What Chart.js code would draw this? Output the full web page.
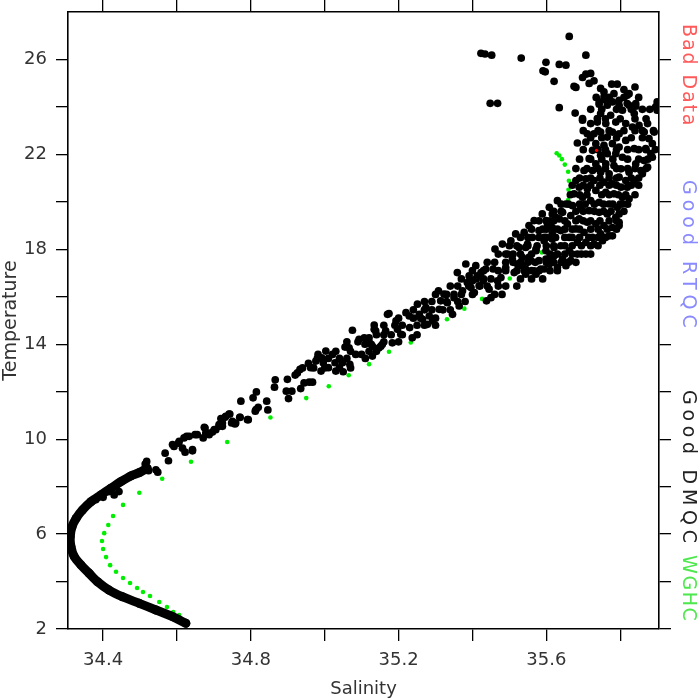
<!DOCTYPE html>
<html>
<head>
<meta charset="utf-8">
<script src="https://cdn.jsdelivr.net/npm/chart.js@4.4.1/dist/chart.umd.min.js"></script>
<style>
  body { margin: 0; background: #fff; }
  #wrap { position: relative; width: 700px; height: 700px; }
  .side { position: absolute; writing-mode: vertical-rl; font-family: "DejaVu Sans", sans-serif;
          font-size: 19px; line-height: 20px; white-space: nowrap; }
</style>
</head>
<body>
<div id="wrap">
  <canvas id="chart" width="700" height="700"></canvas>
  <div class="side" style="left:680px; top:24px; color:#ff5a5a; letter-spacing:1.9px;">Bad Data</div>
  <div class="side" style="left:680px; top:180px; color:#8a8aff; letter-spacing:5px;">Good RTQC</div>
  <div class="side" style="left:680px; top:390px; color:#222; letter-spacing:4.7px;">Good DMQC</div>
  <div class="side" style="left:680px; top:555px; color:#4ee84e; letter-spacing:1.6px;">WGHC</div>
</div>
<script>
// axis ticks (minor ticks carry an empty label)
const xTicks = [34.4, 34.6, 34.8, 35.0, 35.2, 35.4, 35.6, 35.8];
const xLabels = ["34.4", "", "34.8", "", "35.2", "", "35.6", ""];
const yTicks = [2, 4, 6, 8, 10, 12, 14, 16, 18, 20, 22, 24, 26];
const yLabels = ["2", "", "6", "", "10", "", "14", "", "18", "", "22", "", "26"];

// dense deep part of the DMQC profile (salinity, temperature)
const bandPoints = [
  [34.624,2.24],[34.588,2.52],[34.543,2.80],[34.498,3.08],[34.452,3.36],[34.416,3.64],
  [34.385,3.99],[34.362,4.35],[34.340,4.70],[34.322,5.05],[34.313,5.47],[34.311,5.89],
  [34.316,6.31],[34.327,6.66],[34.344,7.01],[34.367,7.36],[34.394,7.65],[34.421,7.93],
  [34.448,8.21],[34.475,8.45],[34.498,8.59],[34.519,8.78]
];

// scattered DMQC points (salinity, temperature)
const dmqcPoints = [
  [34.518,9.06],[34.514,8.95],[34.523,8.67],[34.543,8.71],[34.548,8.61],[34.568,9.41],[34.577,9.09],
  [34.592,9.69],[34.604,9.83],[34.615,9.62],[34.622,9.45],[34.626,10.12],[34.642,9.51],[34.649,10.19],
  [34.671,10.05],[34.676,10.47],[34.683,10.26],[34.696,10.30],[34.705,10.40],[34.714,10.61],[34.723,10.54],
  [34.730,10.92],[34.743,11.06],[34.748,10.68],[34.757,10.64],[34.771,10.92],[34.791,10.82],[34.814,11.25],
  [34.452,8.24],[34.475,8.43],[34.435,8.00],[34.416,7.79],[34.430,7.65],[34.443,7.79],[34.400,7.55],[34.380,7.45],
  [34.588,9.77],[34.606,9.91],[34.619,10.05],[34.633,10.12],[34.642,9.56],[34.655,10.19],[34.674,10.50],
  [34.678,10.26],[34.687,10.19],[34.701,10.40],[34.714,10.54],[34.723,10.68],[34.719,10.87],[34.732,10.96],
  [34.741,11.06],[34.750,10.75],[34.759,10.68],[34.770,10.92],[34.773,11.60],[34.793,10.82],[34.806,11.74],
  [34.815,11.99],[34.812,11.18],[34.820,11.34],[34.843,11.60],[34.846,11.23],[34.864,12.19],[34.866,12.50],
  [34.899,12.52],[34.896,12.02],[34.902,11.71],[34.911,12.02],[34.920,12.70],[34.926,12.79],[34.933,12.94],
  [34.935,12.13],[34.944,12.37],[34.956,13.19],[34.958,12.40],[34.967,12.40],[34.962,13.01],[34.976,13.29],
  [34.982,13.57],[34.990,12.87],[34.992,13.43],[34.996,13.22],[35.003,13.71],[35.010,13.01],[35.021,13.57],
  [35.028,13.22],[35.030,12.87],[35.048,13.22],[35.050,12.84],[35.055,13.88],[35.066,13.85],[35.068,13.15],
  [35.075,14.59],[35.084,13.57],[35.093,14.21],[35.100,13.57],[35.109,14.00],[35.120,14.27],[35.126,14.00],
  [35.134,14.81],[35.138,14.56],[35.129,13.50],[35.147,13.85],[35.156,14.00],[35.170,15.26],
  [35.107,14.27],[35.129,13.92],[35.134,14.63],[35.152,13.92],[35.165,14.56],[35.174,15.29],[35.183,14.06],
  [35.193,14.98],[35.197,14.63],[35.206,14.42],[35.220,15.33],[35.229,15.19],[35.230,14.70],[35.237,14.27],
  [35.251,15.69],[35.256,15.26],[35.265,15.05],[35.274,15.54],[35.278,14.84],[35.283,15.19],[35.292,14.98],
  [35.308,16.25],[35.310,15.47],[35.314,15.83],[35.323,16.11],[35.332,15.75],[35.346,15.26],[35.350,15.96],
  [35.359,17.02],[35.364,15.61],[35.373,16.25],[35.382,17.38],[35.386,16.60],[35.391,16.88],[35.396,16.39],
  [35.400,16.67],[35.405,16.18],[35.409,17.31],[35.413,16.88],[35.418,16.46],[35.423,17.02],[35.429,16.67],
  [35.436,17.17],[35.438,15.83],[35.445,16.32],[35.450,15.96],[35.456,17.17],[35.461,18.01],[35.468,16.67],
  [35.477,16.81],[35.481,18.22],[35.490,17.23],[35.495,17.80],[35.504,18.36],[35.508,17.59],[35.513,17.02],
  [35.517,18.65],[35.522,17.38],[35.526,18.08],[35.535,17.66],[35.540,18.71],[35.544,17.17],[35.549,18.22],
  [35.553,19.00],[35.558,17.52],[35.562,18.50],[35.567,19.21],[35.572,17.94],[35.580,18.79],[35.585,17.17],
  [35.589,19.49],[35.594,18.36],[35.599,17.59],[35.603,19.07],[35.608,19.77],[35.612,17.52],[35.616,18.65],
  [35.621,18.08],[35.626,19.35],[35.630,20.05],
  [35.635,23.97],[35.678,23.74],[35.743,24.11],[35.756,24.42],[35.765,24.07],[35.783,24.56],[35.797,24.28],
  [35.806,23.86],[35.819,24.49],[35.824,24.07],[35.838,23.72],[35.842,24.14],[35.747,23.72],[35.774,23.65],
  [35.698,23.44],[35.720,23.30],[35.738,23.36],[35.761,23.30],[35.788,23.36],[35.815,23.30],[35.833,23.15],
  [35.851,23.22],[35.874,23.30],[35.896,24.00],[35.892,22.94],[35.865,22.94],[35.878,22.66],[35.887,22.45],
  [35.869,22.24],[35.883,22.03],[35.865,21.74],[35.856,21.32],[35.838,22.24],[35.842,21.60],[35.824,21.25],
  [35.815,22.59],[35.797,22.87],[35.779,22.94],[35.765,22.73],[35.747,22.94],[35.729,22.87],[35.711,22.87],
  [35.707,22.52],[35.684,22.48],[35.734,22.45],[35.756,22.38],[35.779,22.45],[35.797,22.31],[35.806,21.88],
  [35.788,22.03],[35.765,22.03],[35.747,21.96],[35.725,22.17],[35.716,21.82],[35.734,21.60],[35.761,21.60],
  [35.783,21.53],[35.802,21.39],[35.815,20.90],[35.797,21.04],[35.770,21.18],[35.747,21.25],[35.725,21.32],
  [35.702,21.32],[35.707,20.97],[35.729,20.90],[35.756,20.83],[35.779,20.76],[35.802,20.62],[35.806,20.19],
  [35.783,20.34],[35.761,20.40],[35.734,20.48],[35.711,20.55],[35.689,20.62],[35.680,20.90],[35.675,20.34],
  [35.698,20.19],[35.720,20.05],[35.743,19.98],[35.770,19.91],[35.792,19.77],[35.788,19.35],[35.765,19.49],
  [35.743,19.56],[35.716,19.63],[35.693,19.70],[35.671,19.84],[35.653,19.91],[35.644,19.56],[35.666,19.42],
  [35.689,19.28],[35.711,19.14],[35.734,19.07],[35.756,19.00],[35.779,18.92],[35.797,19.00],[35.770,18.57],
  [35.747,18.65],[35.725,18.50],[35.702,18.71],[35.680,18.86],[35.657,19.07],[35.635,19.28],[35.616,19.49],
  [35.599,19.21],[35.616,18.92],[35.639,18.79],[35.662,18.50],[35.684,18.29],[35.707,18.29],[35.729,18.22],
  [35.752,18.36],[35.594,18.50],[35.616,18.43],[35.639,18.15],[35.662,17.94],[35.684,17.80],[35.707,17.80],
  [35.544,18.08],[35.572,18.01],[35.599,17.94],[35.621,17.73],[35.644,17.59],[35.666,17.52],[35.553,17.66],
  [35.580,17.52],[35.608,17.38],[35.630,17.23],[35.653,17.31],[35.535,17.31],[35.567,17.09],[35.594,17.17],
  [35.544,16.95],[35.572,16.95],
  [35.900,23.86],[35.887,21.88],[35.874,21.46],[35.860,21.18],[35.838,20.90],[35.819,20.62],[35.824,20.13],
  [35.806,19.91],[35.797,19.49],[35.797,19.14],[35.779,18.57],
  [35.423,26.26],[35.434,26.23],[35.452,26.18],[35.532,26.06],[35.662,26.97],[35.707,26.18],[35.599,25.88],
  [35.635,25.79],[35.653,25.76],[35.591,25.52],[35.597,25.48],[35.621,25.08],[35.698,25.24],[35.707,25.38],
  [35.720,25.41],[35.729,25.10],[35.716,24.99],[35.675,24.87],[35.680,24.82],[35.777,24.96],[35.792,24.96],
  [35.747,24.78],[35.756,24.63],[35.810,24.73],[35.840,24.84],[35.824,24.56],[35.448,24.15],[35.468,24.15],
  [35.743,24.21],[35.761,24.28],[35.779,24.21],[35.797,24.07],[35.819,24.14],[35.842,24.03],[35.900,24.21],
  [35.698,23.51],[35.738,23.51],
  // filling of the warm, dense cluster
  [35.735,24.40],[35.770,24.40],[35.810,24.40],[35.850,24.40],
  [35.720,23.90],[35.750,23.90],[35.790,23.90],[35.830,23.90],[35.860,23.90],[35.880,23.90],
  [35.760,23.50],[35.800,23.50],[35.840,23.50],[35.870,23.50],
  [35.700,23.00],[35.740,23.00],[35.770,23.00],[35.810,23.00],[35.840,23.00],[35.860,23.00],[35.890,23.00],
  [35.720,22.70],[35.750,22.70],[35.790,22.70],[35.830,22.70],[35.860,22.70],
  [35.700,22.20],[35.740,22.20],[35.760,22.20],[35.790,22.20],[35.820,22.20],[35.850,22.20],[35.870,22.20],[35.895,22.20],
  [35.690,21.80],[35.720,21.80],[35.750,21.80],[35.780,21.80],[35.820,21.80],[35.850,21.80],[35.875,21.80],
  [35.680,21.40],[35.710,21.40],[35.740,21.40],[35.760,21.40],[35.790,21.40],[35.820,21.40],[35.840,21.40],[35.870,21.40],
  [35.690,21.00],[35.720,21.00],[35.745,21.00],[35.770,21.00],[35.790,21.00],[35.830,21.00],[35.850,21.00],
  [35.670,20.70],[35.700,20.70],[35.720,20.70],[35.745,20.70],[35.770,20.70],[35.790,20.70],[35.830,20.70],[35.850,20.70],
  [35.665,20.30],[35.690,20.30],[35.710,20.30],[35.750,20.30],[35.770,20.30],[35.795,20.30],[35.815,20.30],[35.840,20.30],
  [35.640,19.90],[35.660,19.90],[35.690,19.90],[35.705,19.90],[35.730,19.90],[35.755,19.90],[35.780,19.90],[35.800,19.90],[35.820,19.90],
  [35.620,19.60],[35.640,19.60],[35.680,19.60],[35.700,19.60],[35.730,19.60],[35.755,19.60],[35.775,19.60],[35.810,19.60],
  [35.580,19.20],[35.610,19.20],[35.620,19.20],[35.650,19.20],[35.680,19.20],[35.700,19.20],[35.720,19.20],[35.745,19.20],[35.770,19.20],[35.790,19.20],
  [35.560,18.85],[35.590,18.85],[35.600,18.85],[35.630,18.85],[35.650,18.85],[35.670,18.85],[35.690,18.85],[35.720,18.85],[35.740,18.85],[35.765,18.85],[35.790,18.85],
  [35.530,18.50],[35.550,18.50],[35.580,18.50],[35.600,18.50],[35.625,18.50],[35.650,18.50],[35.670,18.50],[35.690,18.50],[35.715,18.50],[35.740,18.50],[35.760,18.50],
  [35.500,18.15],[35.520,18.15],[35.550,18.15],[35.575,18.15],[35.600,18.15],[35.620,18.15],[35.650,18.15],[35.670,18.15],[35.695,18.15],[35.720,18.15],[35.740,18.15],
  [35.470,17.80],[35.490,17.80],[35.510,17.80],[35.530,17.80],[35.560,17.80],[35.610,17.80],[35.630,17.80],[35.650,17.80],[35.670,17.80],[35.695,17.80],[35.720,17.80],
  [35.440,17.45],[35.460,17.45],[35.490,17.45],[35.510,17.45],[35.530,17.45],[35.550,17.45],[35.570,17.45],[35.600,17.45],[35.620,17.45],[35.640,17.45],[35.660,17.45],[35.680,17.45],
  [35.400,17.10],[35.430,17.10],[35.470,17.10],[35.490,17.10],[35.520,17.10],[35.540,17.10],[35.560,17.10],[35.580,17.10],[35.610,17.10],[35.630,17.10],
  [35.370,16.75],[35.410,16.75],[35.430,16.75],[35.450,16.75],[35.530,16.75],[35.560,16.75],[35.590,16.75],
  [35.340,16.45],[35.360,16.45],[35.390,16.45],[35.420,16.45],[35.440,16.45],[35.470,16.45],[35.490,16.45],[35.520,16.45],
  [35.300,16.10],[35.330,16.10],[35.350,16.10],[35.370,16.10],[35.400,16.10],[35.460,16.10],[35.480,16.10],
  [35.270,15.80],[35.290,15.80],[35.330,15.80],[35.360,15.80],[35.380,15.80],
  [35.240,15.45],[35.270,15.45],[35.290,15.45],[35.320,15.45],[35.340,15.45],
  [35.200,15.10],[35.240,15.10],[35.260,15.10],[35.300,15.10],
  [35.160,14.80],[35.190,14.80],[35.210,14.80],[35.250,14.80],[35.270,14.80],[35.300,14.80],
  [35.140,14.40],[35.160,14.40],[35.180,14.40],[35.210,14.40],[35.250,14.40],
  [35.060,14.10],[35.090,14.10],[35.120,14.10],[35.160,14.10],[35.200,14.10],
  [35.030,13.70],[35.070,13.70],[35.120,13.70],[35.140,13.70],
  [34.980,13.40],[35.010,13.40],[35.040,13.40],[35.060,13.40],[35.110,13.40],
  [34.940,13.00],[34.970,13.00],[35.000,13.00],[35.040,13.00],[35.070,13.00]
];

// WGHC climatology profile
const wghcPoints = [
  [34.625,2.33],[34.606,2.59],[34.590,2.71],[34.573,2.93],[34.552,3.14],[34.527,3.39],[34.508,3.56],
  [34.492,3.73],[34.473,3.94],[34.454,4.15],[34.435,4.41],[34.419,4.69],[34.408,5.03],[34.400,5.37],
  [34.397,5.71],[34.403,6.04],[34.414,6.38],[34.427,6.76],[34.454,7.23],[34.498,7.74],[34.560,8.33],
  [34.638,9.05],[34.736,9.88],[34.853,10.91],[34.950,11.73],[35.011,12.23],[35.065,12.69],[35.120,13.16],
  [35.174,13.68],[35.233,14.07],[35.331,15.05],[35.378,15.50],[35.426,15.91],[35.501,16.77],[35.588,17.87],
  [35.659,20.08],[35.660,20.51],[35.661,20.89],[35.659,21.27],[35.650,21.57],[35.642,21.80],[35.635,21.95],
  [35.628,22.05]
];

// flagged bad point
const badPoints = [[35.736,22.17]];

const toXY = pts => pts.map(p => ({ x: p[0], y: p[1] }));

function axisStyle(ticks, labels, showLabels) {
  return {
    afterBuildTicks: s => { s.ticks = ticks.map(v => ({ value: v })); },
    grid: { display: true, drawOnChartArea: false, drawTicks: true, tickLength: 12, color: "#000", lineWidth: 1.3 },
    border: { display: true, color: "#000", width: 1.6 },
    ticks: {
      display: showLabels,
      autoSkip: false,
      maxRotation: 0,
      color: "#333",
      padding: 9,
      font: { family: "DejaVu Sans", size: 18 },
      callback: (v, i) => labels[i]
    }
  };
}

// keep the plot box fixed: no extra room for half tick labels
function fixBox(size, vertical) {
  return s => {
    if (vertical) s.width = size; else s.height = size;
    s.paddingTop = 0; s.paddingBottom = 0; s.paddingLeft = 0; s.paddingRight = 0;
  };
}

const xMin = 34.305, xMax = 35.905, yMin = 2, yMax = 28;

new Chart(document.getElementById("chart"), {
  type: "scatter",
  data: {
    datasets: [
      { data: toXY(badPoints), backgroundColor: "#ff0000", pointRadius: 1.6, pointBorderWidth: 0, order: 0 },
      { data: toXY(dmqcPoints), backgroundColor: "#000", pointRadius: 3.85, pointBorderWidth: 0, order: 1 },
      { data: toXY(bandPoints), backgroundColor: "#000", borderColor: "#000", showLine: true,
        borderWidth: 9, borderCapStyle: "round", borderJoinStyle: "round", tension: 0.3,
        pointRadius: 4.5, pointBorderWidth: 0, order: 2 },
      { data: toXY(wghcPoints), backgroundColor: "#00ee00", pointRadius: 2.3, pointBorderWidth: 0, order: 3 }
    ]
  },
  options: {
    responsive: false,
    animation: false,
    devicePixelRatio: 1,
    layout: { padding: 0 },
    plugins: { legend: { display: false }, tooltip: { enabled: false } },
    scales: {
      x: Object.assign(axisStyle(xTicks, xLabels, true), {
        type: "linear", position: "bottom", min: xMin, max: xMax,
        title: { display: true, text: "Salinity", color: "#333", padding: 0, font: { family: "DejaVu Sans", size: 18 } },
        afterFit: fixBox(71, false)
      }),
      x2: Object.assign(axisStyle(xTicks, xLabels, false), {
        type: "linear", position: "top", min: xMin, max: xMax,
        afterFit: fixBox(12, false)
      }),
      y: Object.assign(axisStyle(yTicks, yLabels, true), {
        type: "linear", position: "left", min: yMin, max: yMax,
        title: { display: true, text: "Temperature", color: "#333", padding: 0, font: { family: "DejaVu Sans", size: 19 } },
        afterFit: fixBox(68, true)
      }),
      y2: Object.assign(axisStyle(yTicks, yLabels, false), {
        type: "linear", position: "right", min: yMin, max: yMax,
        afterFit: fixBox(41, true)
      })
    }
  }
});
</script>
</body>
</html>
